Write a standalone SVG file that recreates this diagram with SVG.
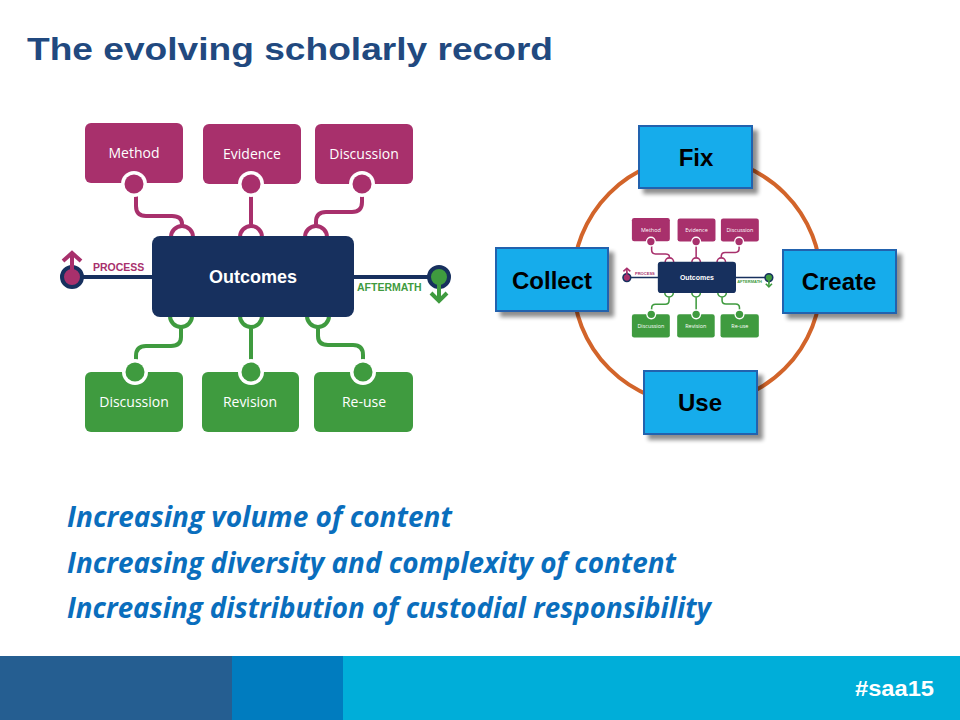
<svg xmlns="http://www.w3.org/2000/svg" xmlns:xlink="http://www.w3.org/1999/xlink" width="960" height="720" viewBox="0 0 960 720">
<defs>
<style>
.title{font-family:"Liberation Sans",Arial,sans-serif;font-weight:bold;font-size:32px;fill:#21497F}
.bullet{font-family:"Open Sans","Noto Sans",sans-serif;font-weight:bold;font-style:italic;font-size:28px;fill:#0A6EBD}
.lbl{font-family:"Open Sans","Noto Sans",sans-serif;font-size:14px;fill:#ffffff;text-anchor:middle}
.out{font-family:"Liberation Sans",Arial,sans-serif;font-weight:bold;font-size:18px;fill:#ffffff;text-anchor:middle}
.tag{font-family:"Liberation Sans",Arial,sans-serif;font-weight:bold;font-size:10.5px}
.big{font-family:"Liberation Sans",Arial,sans-serif;font-weight:bold;font-size:24px;fill:#000000;text-anchor:middle}
.mag{fill:#A8306C}
.grn{fill:#3F9B3F}
.mline{fill:none;stroke:#A8306C;stroke-width:4;stroke-linecap:round;stroke-linejoin:round}
.gline{fill:none;stroke:#3F9B3F;stroke-width:4;stroke-linecap:round;stroke-linejoin:round}
.nline{fill:none;stroke:#17305E;stroke-width:4}
.msock{fill:#ffffff;stroke:#A8306C;stroke-width:4}
.gsock{fill:#ffffff;stroke:#3F9B3F;stroke-width:4}
.cyc{fill:#12ACEB;stroke:#2462AE;stroke-width:2}
</style>
<filter id="shadow" x="-20%" y="-20%" width="150%" height="150%">
<feGaussianBlur in="SourceAlpha" stdDeviation="2"/>
<feOffset dx="5" dy="5" result="b"/>
<feComponentTransfer><feFuncA type="linear" slope="0.45"/></feComponentTransfer>
<feMerge><feMergeNode/><feMergeNode in="SourceGraphic"/></feMerge>
</filter>
</defs>
<rect width="960" height="720" fill="#ffffff"/>
<text class="title" x="27" y="60" textLength="526" lengthAdjust="spacingAndGlyphs">The evolving scholarly record</text>

<g id="scholarly-record">
<g id="connectors">
<path class="mline" d="M136,190 V206 Q136,216 146,216 H172 Q182,216 182,224"/>
<path class="mline" d="M251,190 V224"/>
<path class="mline" d="M362,190 V202 Q362,212 352,212 H326 Q316,212 316,222 V224"/>
<path class="gline" d="M181,329 V337 Q181,346 171,346 H146 Q136,346 136,356 V371"/>
<path class="gline" d="M251,329 V371"/>
<path class="gline" d="M318,329 V336 Q318,345 328,345 H353 Q363,345 363,355 V371"/>
<path class="msock" d="M171,237 A11,11 0 0 1 193,237"/>
<path class="msock" d="M240,237 A11,11 0 0 1 262,237"/>
<path class="msock" d="M305,237 A11,11 0 0 1 327,237"/>
<path class="gsock" d="M170,316 A11,11 0 0 0 192,316"/>
<path class="gsock" d="M240,316 A11,11 0 0 0 262,316"/>
<path class="gsock" d="M307,316 A11,11 0 0 0 329,316"/>
<line class="nline" x1="71" y1="277" x2="153" y2="277"/>
<line class="nline" x1="353" y1="277" x2="439" y2="277"/>
<line x1="72" y1="277" x2="72" y2="254" stroke="#A8306C" stroke-width="4"/>
<polyline points="63,261 72,253 81,261" fill="none" stroke="#A8306C" stroke-width="4"/>
<line x1="439" y1="277" x2="439" y2="300" stroke="#3F9B3F" stroke-width="4"/>
<polyline points="431,293 439,301 447,293" fill="none" stroke="#3F9B3F" stroke-width="4"/>
</g>
<g id="process"><circle cx="72" cy="277" r="10" fill="#A8306C" stroke="#17305E" stroke-width="4"/>
<line x1="72" y1="277" x2="72" y2="262" stroke="#A8306C" stroke-width="4"/>
<text class="tag mag" x="93" y="271">PROCESS</text></g>
<g id="aftermath"><circle cx="439" cy="277" r="10" fill="#3F9B3F" stroke="#17305E" stroke-width="4"/>
<line x1="439" y1="280" x2="439" y2="292" stroke="#3F9B3F" stroke-width="4"/>
<text class="tag grn" x="357" y="291">AFTERMATH</text></g>
<g id="outcomes"><rect x="152" y="236" width="202" height="81" rx="8" fill="#17305E"/>
<text class="out" x="253" y="283">Outcomes</text></g>
<g id="method"><rect x="85" y="123" width="98" height="60" rx="6" class="mag"/>
<circle cx="134" cy="184" r="13" fill="#ffffff"/><circle cx="134" cy="184" r="9.5" class="mag"/>
<text class="lbl" x="134" y="158">Method</text></g>
<g id="evidence"><rect x="203" y="124" width="98" height="60" rx="6" class="mag"/>
<circle cx="251" cy="184" r="13" fill="#ffffff"/><circle cx="251" cy="184" r="9.5" class="mag"/>
<text class="lbl" x="252" y="159">Evidence</text></g>
<g id="discussion-top"><rect x="315" y="124" width="98" height="60" rx="6" class="mag"/>
<circle cx="362" cy="184" r="13" fill="#ffffff"/><circle cx="362" cy="184" r="9.5" class="mag"/>
<text class="lbl" x="364" y="159">Discussion</text></g>
<g id="discussion-bottom"><rect x="85" y="372" width="98" height="60" rx="6" class="grn"/>
<circle cx="135" cy="372" r="13" fill="#ffffff"/><circle cx="135" cy="372" r="9.5" class="grn"/>
<text class="lbl" x="134" y="407">Discussion</text></g>
<g id="revision"><rect x="202" y="372" width="97" height="60" rx="6" class="grn"/>
<circle cx="251" cy="372" r="13" fill="#ffffff"/><circle cx="251" cy="372" r="9.5" class="grn"/>
<text class="lbl" x="250" y="407">Revision</text></g>
<g id="reuse"><rect x="314" y="372" width="99" height="60" rx="6" class="grn"/>
<circle cx="363" cy="372" r="13" fill="#ffffff"/><circle cx="363" cy="372" r="9.5" class="grn"/>
<text class="lbl" x="364" y="407">Re-use</text></g>
</g>

<g id="cycle">
<circle cx="697" cy="281" r="124" fill="none" stroke="#D2642A" stroke-width="4"/>
</g>
<use id="mini-record" xlink:href="#scholarly-record" href="#scholarly-record" transform="translate(599,170.4) scale(0.387)"/>
<g id="fix"><rect class="cyc" x="639" y="126" width="113" height="62" filter="url(#shadow)"/>
<text class="big" x="696" y="166">Fix</text></g>
<g id="collect"><rect class="cyc" x="496" y="248" width="112" height="63" filter="url(#shadow)"/>
<text class="big" x="552" y="289">Collect</text></g>
<g id="create"><rect class="cyc" x="783" y="250" width="113" height="63" filter="url(#shadow)"/>
<text class="big" x="839" y="290">Create</text></g>
<g id="use"><rect class="cyc" x="644" y="371" width="113" height="63" filter="url(#shadow)"/>
<text class="big" x="700" y="411">Use</text></g>

<text class="bullet" x="67" y="527" textLength="385" lengthAdjust="spacingAndGlyphs">Increasing volume of content</text>
<text class="bullet" x="67" y="573" textLength="609" lengthAdjust="spacingAndGlyphs">Increasing diversity and complexity of content</text>
<text class="bullet" x="67" y="618" textLength="644" lengthAdjust="spacingAndGlyphs">Increasing distribution of custodial responsibility</text>

<g id="footer">
<rect x="0" y="656" width="232" height="64" fill="#255E91"/>
<rect x="232" y="656" width="111" height="64" fill="#007CBF"/>
<rect x="343" y="656" width="617" height="64" fill="#00AED9"/>
<text x="855" y="696" font-family="'Liberation Sans Narrow','Liberation Sans',Arial,sans-serif" font-weight="bold" font-size="22" fill="#ffffff" textLength="79" lengthAdjust="spacingAndGlyphs">#saa15</text>
</g>
</svg>
